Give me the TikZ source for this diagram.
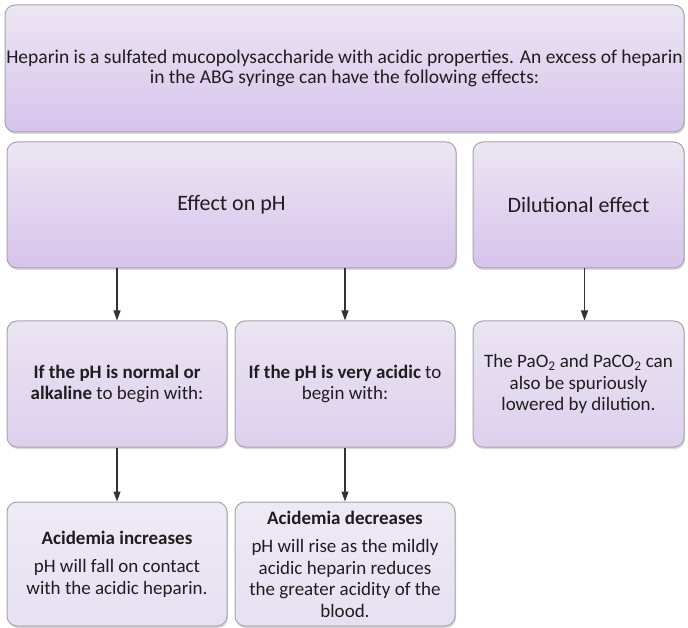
\documentclass[tikz,border=0pt]{standalone}
\usepackage{fontspec}
\setmainfont{Carlito}
\usetikzlibrary{shadows,arrows.meta}
\definecolor{boxline}{HTML}{A8A4AC}
\definecolor{lavtop}{HTML}{ECE6F3}
\definecolor{lavbot}{HTML}{D7C3EC}
\definecolor{midtop}{HTML}{EAE4F2}
\definecolor{midbot}{HTML}{DDD0EE}
\definecolor{lowtop}{HTML}{EEEAF5}
\definecolor{lowbot}{HTML}{E6E0F1}
\definecolor{txt}{HTML}{1E1E1E}
\begin{document}
\begin{tikzpicture}[x=1pt,y=-1pt,
  box/.style={draw=boxline, line width=1pt, rounded corners=10pt, inner sep=0pt,
    align=center, text=txt,
    drop shadow={shadow xshift=1pt, shadow yshift=-2pt, opacity=0.25, fill=black!60}},
  upper/.style={box, top color=lavtop, bottom color=lavbot},
  middle/.style={box, top color=midtop, bottom color=midbot},
  lower/.style={box, top color=lowtop, bottom color=lowbot},
  toptext/.style={font=\fontsize{19.5}{20.5}\selectfont},
  bodytext/.style={font=\fontsize{19}{21.5}\selectfont},
  headtext/.style={font=\fontsize{22}{25}\selectfont},
  arr/.style={draw=black!80, line width=1.2pt, -{Triangle[length=10pt,width=7pt]}}
]
\useasboundingbox (0,0) rectangle (688,628);

% heading box
\node[upper, toptext, minimum width=679pt, minimum height=127pt] (top) at (344.5,68.5)
  {Heparin is a sulfated mucopolysaccharide with acidic properties. An excess of heparin\\
   in the ABG syringe can have the following effects:};

% the two kinds of effect
\node[upper, headtext, minimum width=449pt, minimum height=126pt] (eff) at (231.5,205)
  {Effect on pH};
\node[upper, headtext, minimum width=211pt, minimum height=126pt] (dil) at (578.5,205)
  {Dilutional effect};

% starting conditions
\node[middle, bodytext, minimum width=220pt, minimum height=126pt] (n1) at (117,384)
  {\textbf{If the pH is normal or}\\ \textbf{alkaline} to begin with:};
\node[middle, bodytext, minimum width=220pt, minimum height=126pt] (n2) at (345,384)
  {\textbf{If the pH is very acidic} to\\ begin with:};
\node[middle, bodytext, minimum width=211pt, minimum height=126pt] (n3) at (578.5,384)
  {The PaO\textsubscript{2} and PaCO\textsubscript{2} can\\ also be spuriously\\ lowered by dilution.};

% outcomes
\node[lower, bodytext, minimum width=220pt, minimum height=124pt] (r1) at (117,564)
  {\textbf{Acidemia increases}\\[7pt] pH will fall on contact\\ with the acidic heparin.};
\node[lower, bodytext, minimum width=220pt, minimum height=124pt] (r2) at (345,564)
  {\textbf{Acidemia decreases}\\[7pt] pH will rise as the mildly\\ acidic heparin reduces\\ the greater acidity of the\\ blood.};

% connectors
\draw[arr] (eff.south -| n1.north) -- (n1.north);
\draw[arr] (eff.south -| n2.north) -- (n2.north);
\draw[arr] ([xshift=6pt]dil.south) -- ([xshift=6pt]n3.north);
\draw[arr] (n1.south) -- (r1.north);
\draw[arr] (n2.south) -- (r2.north);
\end{tikzpicture}
\end{document}
